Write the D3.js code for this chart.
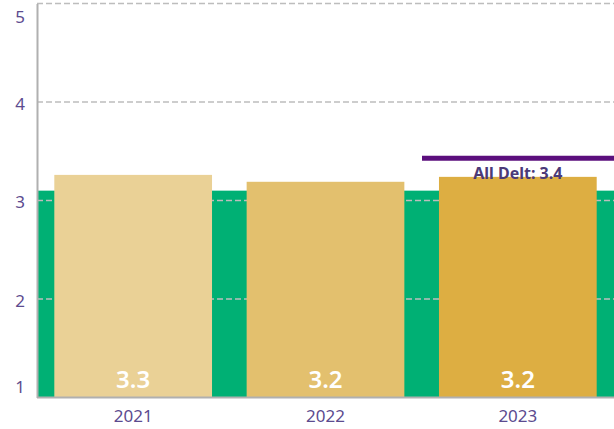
<!DOCTYPE html>
<html>
<head>
<meta charset="utf-8">
<script src="https://cdn.jsdelivr.net/npm/d3@7"></script>
<style>
  body { margin: 0; background: #fff; }
  svg { display: block; font-family: "Noto Sans", "Open Sans", sans-serif; }
</style>
</head>
<body>
<svg id="mainSvg" width="614" height="429"></svg>
<script>
var years = ["2021", "2022", "2023"];
var scores = [3.26, 3.19, 3.24];
var scoreLabels = ["3.3", "3.2", "3.2"];
var barColors = ["#EAD196", "#E3C06E", "#DDAE42"];
var yTicks = [1, 2, 3, 4, 5];
var bandTop = 3.1;       // green reference band
var allDelt = 3.43;      // purple reference line
var allDeltLabel = "All Delt: 3.4";

function drawChart() {
  var svg = d3.select("#mainSvg");
  var plotLeft = 37, plotRight = 614, plotTop = 3.5, plotBottom = 397.5;

  var x = d3.scaleBand()
    .domain(years)
    .range([plotLeft, plotRight])
    .paddingInner(0.18)
    .paddingOuter(0.09);

  var y = d3.scaleLinear()
    .domain([1, 5])
    .range([plotBottom, plotTop]);

  // green band behind everything
  svg.append("rect")
    .attr("x", plotLeft)
    .attr("y", y(bandTop))
    .attr("width", plotRight - plotLeft)
    .attr("height", y(1) - y(bandTop))
    .attr("fill", "#00B074");

  // dashed gridlines
  svg.append("g")
    .selectAll("line")
    .data(yTicks.filter(function(d) { return d > 1; }))
    .enter().append("line")
    .attr("x1", plotLeft)
    .attr("x2", plotRight)
    .attr("y1", function(d) { return y(d); })
    .attr("y2", function(d) { return y(d); })
    .attr("stroke", "#BDBDBD")
    .attr("stroke-width", 1.5)
    .attr("stroke-dasharray", "6,3");

  // bars
  svg.selectAll(".bar")
    .data(years)
    .enter().append("rect")
    .attr("class", "bar")
    .attr("x", function(d) { return x(d); })
    .attr("width", x.bandwidth())
    .attr("y", function(d, i) { return y(scores[i]); })
    .attr("height", function(d, i) { return y(1) - y(scores[i]); })
    .attr("fill", function(d, i) { return barColors[i]; });

  // bar value labels
  svg.selectAll(".val")
    .data(years)
    .enter().append("text")
    .attr("class", "val")
    .attr("x", function(d) { return x(d) + x.bandwidth() / 2; })
    .attr("y", 388)
    .attr("text-anchor", "middle")
    .attr("fill", "#fff")
    .style("font-size", "24px")
    .style("font-weight", "600")
    .text(function(d, i) { return scoreLabels[i]; });

  // All Delt reference line + label
  svg.append("line")
    .attr("x1", 422)
    .attr("x2", plotRight)
    .attr("y1", y(allDelt))
    .attr("y2", y(allDelt))
    .attr("stroke", "#5B0F7D")
    .attr("stroke-width", 5);

  svg.append("text")
    .attr("x", x("2023") + x.bandwidth() / 2)
    .attr("y", 179)
    .attr("text-anchor", "middle")
    .attr("fill", "#4B3A78")
    .style("font-size", "16px")
    .style("font-weight", "bold")
    .text(allDeltLabel);

  // y axis
  var yAxis = svg.append("g")
    .attr("transform", "translate(" + plotLeft + ",0)")
    .call(d3.axisLeft(y).tickValues(yTicks).tickSize(0).tickPadding(12).tickFormat(d3.format("d")));
  yAxis.select(".domain").attr("stroke", "#B0B0B0").attr("stroke-width", 2);
  yAxis.selectAll("text")
    .attr("fill", "#5C4B8F")
    .style("font-size", "17px")
    .style("font-family", "Noto Sans, sans-serif")
    .attr("dy", function(d) { return d === 5 ? "19px" : d === 1 ? "-5px" : "7px"; });

  // x axis
  var xAxis = svg.append("g")
    .attr("transform", "translate(0," + plotBottom + ")")
    .call(d3.axisBottom(x).tickSize(0).tickPadding(12).tickSizeOuter(0));
  xAxis.select(".domain").attr("stroke", "#B0B0B0").attr("stroke-width", 2)
    .attr("d", "M" + plotLeft + ",0H" + plotRight);
  xAxis.selectAll("text")
    .attr("fill", "#5C4B8F")
    .style("font-size", "17px")
    .style("font-family", "Noto Sans, sans-serif");
}

drawChart();
</script>
</body>
</html>
